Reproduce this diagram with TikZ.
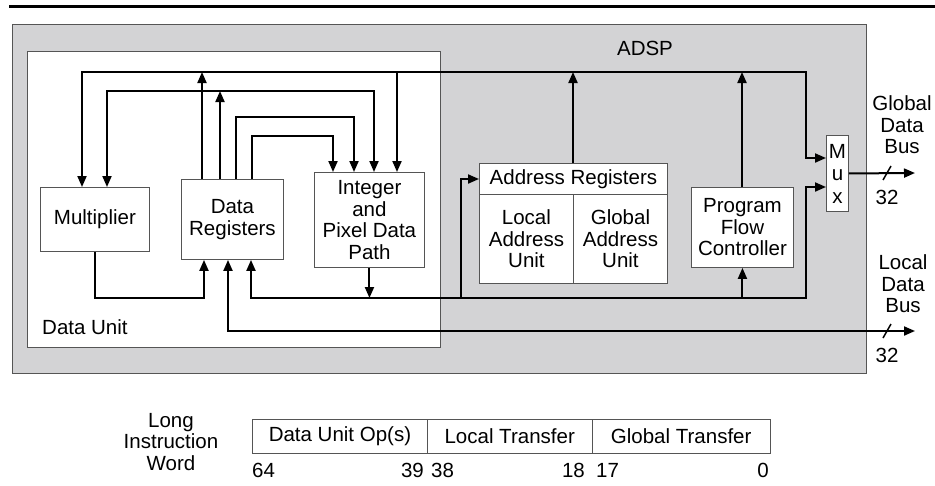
\documentclass[tikz,border=0pt]{standalone}
\usepackage{fontspec}
\setmainfont{Liberation Sans}
\usetikzlibrary{arrows.meta}
\definecolor{chipgray}{RGB}{211,211,213}
\definecolor{edgegray}{RGB}{85,85,85}
\begin{document}
\begin{tikzpicture}[x=1pt,y=-1pt,
  font=\fontsize{20.5}{21.5}\selectfont,
  box/.style={draw=edgegray, line width=0.9pt, fill=white, inner sep=0pt, anchor=north west, align=center},
  wire/.style={line width=2pt},
  arr/.style={line width=2pt, -{Triangle[length=11pt,width=9pt]}},
  barr/.style={line width=2pt, {Triangle[length=11pt,width=9pt]}-{Triangle[length=11pt,width=9pt]}},
  lbl/.style={inner sep=0pt, align=center},
  slash/.style={line width=1.5pt}]
\useasboundingbox (0,0) rectangle (935,485);
% top rule
\draw[line width=3.5pt] (9,6.7) -- (935,6.7);
% chip and data unit
\node[box, fill=chipgray, minimum width=854pt, minimum height=349pt] (adsp) at (12,24) {};
\node[box, minimum width=413pt, minimum height=296pt] (du) at (27,51) {};
\node[lbl] (adspl) at (645,48) {ADSP};
\node[lbl, anchor=west] (dul) at (42,327) {Data Unit};
% blocks
\node[box, minimum width=109pt, minimum height=64pt] (mult) at (40,187) {Multiplier};
\node[box, minimum width=102pt, minimum height=80pt] (dr) at (181,179) {Data\\Registers};
\node[box, minimum width=110pt, minimum height=95pt] (ipd) at (314,172) {Integer\\and\\Pixel Data\\Path};
\node[box, minimum width=188pt, minimum height=31pt] (areg) at (479,163) {Address Registers};
\node[box, minimum width=94pt, minimum height=89pt] (lau) at (479,194) {Local\\Address\\Unit};
\node[box, minimum width=94pt, minimum height=89pt] (gau) at (573,194) {Global\\Address\\Unit};
\node[box, minimum width=102pt, minimum height=80pt] (pfc) at (691,187) {Program\\Flow\\Controller};
\node[box, font=\fontsize{20.5}{22.5}\selectfont, minimum width=22pt, minimum height=76pt] (mux) at (826,135) {M\\u\\x};
% coordinates
\coordinate (A1) at (82,72);
\coordinate (A2) at (202,72);
\coordinate (A3) at (397,72);
\coordinate (A4) at (573,72);
\coordinate (A5) at (742,72);
\coordinate (A6) at (806,72);
\coordinate (M1) at (806,158);
\coordinate (B1) at (107,91);
\coordinate (B2) at (374,91);
\coordinate (B3) at (220,91);
\coordinate (C1) at (236,117);
\coordinate (C2) at (354,117);
\coordinate (D1) at (252,136);
\coordinate (D2) at (333,136);
\coordinate (E1) at (95,298);
\coordinate (E2) at (204,298);
\coordinate (F1) at (251,298);
\coordinate (F2) at (806,298);
\coordinate (M2) at (806,187);
\coordinate (G1) at (461,298);
\coordinate (G2) at (461,179);
\coordinate (L1) at (228,331);
\coordinate (L2) at (915,331);
\coordinate (GO) at (915,173);
% bus at top
\draw[barr] (mult.north -| A1) -- (A1) -- (A6) -- (M1) -- (mux.west |- M1);
\draw[arr] (dr.north -| A2) -- (A2);
\draw[arr] (A3) -- (ipd.north -| A3);
\draw[arr] (areg.north -| A4) -- (A4);
\draw[arr] (pfc.north -| A5) -- (A5);
% second loop
\draw[barr] (mult.north -| B1) -- (B1) -- (B2) -- (ipd.north -| B2);
\draw[arr] (dr.north -| B3) -- (B3);
% third and fourth loops
\draw[arr] (dr.north -| C1) -- (C1) -- (C2) -- (ipd.north -| C2);
\draw[arr] (dr.north -| D1) -- (D1) -- (D2) -- (ipd.north -| D2);
% multiplier result
\draw[arr] (mult.south -| E1) -- (E1) -- (E2) -- (dr.south -| E2);
% internal result bus
\draw[barr] (dr.south -| F1) -- (F1) -- (F2) -- (M2) -- (mux.west |- M2);
\draw[arr] (ipd.south) -- (ipd.south |- F1);
\draw[arr] (G1) -- (G2) -- (areg.west |- G2);
\draw[arr] (pfc.south |- F1) -- (pfc.south);
% local data bus
\draw[barr] (dr.south -| L1) -- (L1) -- (L2);
% global data bus
\draw[arr] (mux.east) -- (GO);
% width slashes
\draw[slash] (883,180) -- (891,166);
\draw[slash] (883,338) -- (891,324);
% bus labels
\node[lbl] (gdb) at (902,125) {Global\\Data\\Bus};
\node[lbl] (n32a) at (887,197) {32};
\node[lbl] (ldb) at (903,284) {Local\\Data\\Bus};
\node[lbl] (n32b) at (887,355) {32};
% instruction word
\node[lbl] (liw) at (171,442) {Long\\Instruction\\Word};
\node[box, minimum width=175pt, minimum height=34pt] (duop) at (252,419) {Data Unit Op(s)};
\node[box, minimum width=164.5pt, minimum height=34pt] (lt) at (427,419) {Local Transfer};
\node[box, minimum width=178.5pt, minimum height=34pt] (gt) at (591.5,419) {Global Transfer};
\node[lbl, anchor=west] (b64) at (252,470) {64};
\node[lbl, anchor=east] (b39) at (424,470) {39};
\node[lbl, anchor=west] (b38) at (431,470) {38};
\node[lbl, anchor=east] (b18) at (585,470) {18};
\node[lbl, anchor=west] (b17) at (596,470) {17};
\node[lbl, anchor=east] (b0) at (769,470) {0};
\end{tikzpicture}
\end{document}
